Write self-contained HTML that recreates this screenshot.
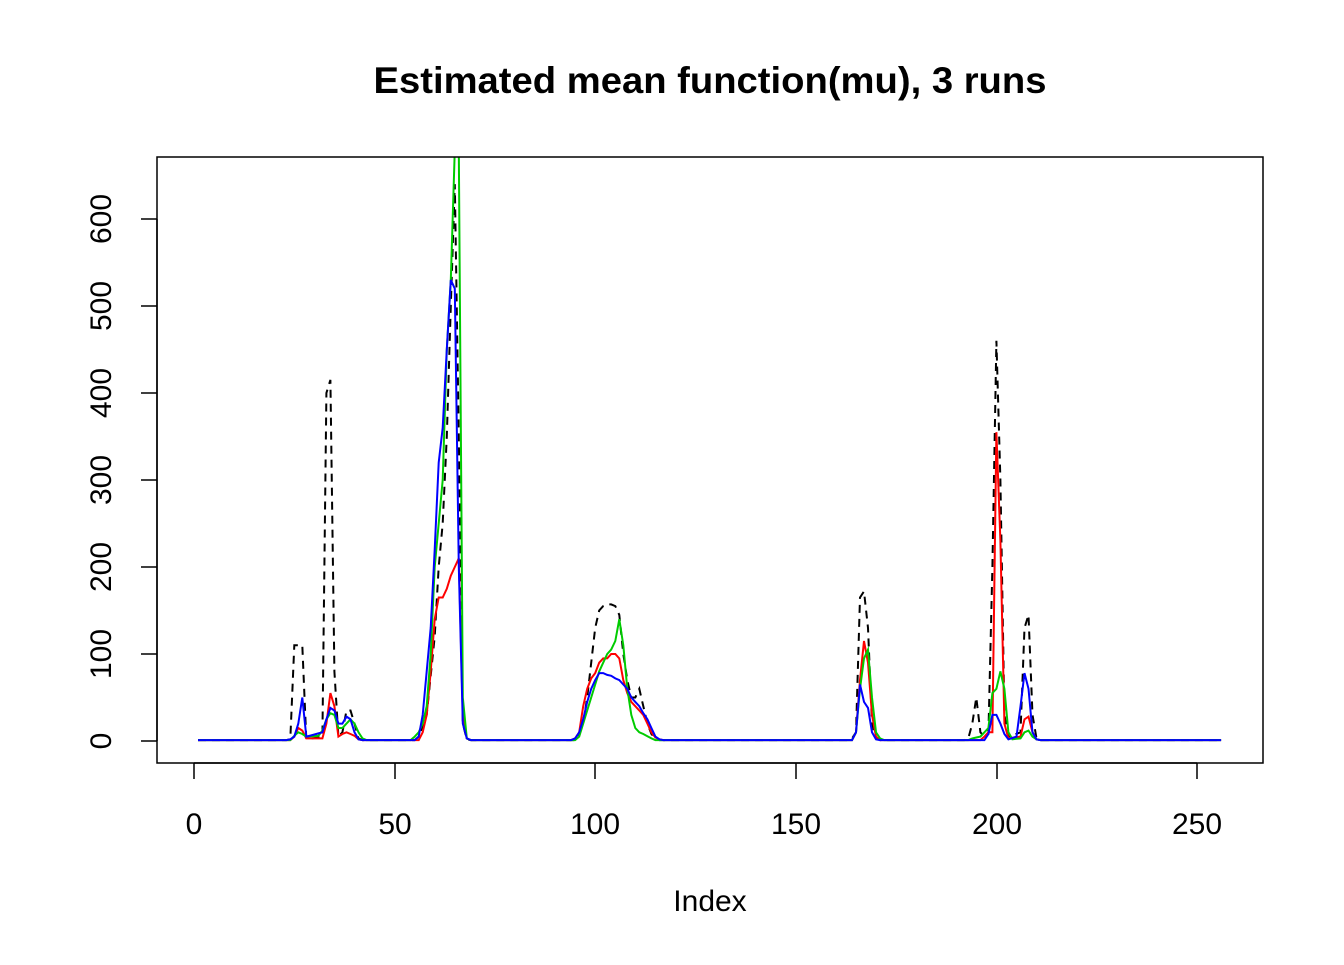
<!DOCTYPE html>
<html><head><meta charset="utf-8"><style>
body{margin:0;background:#fff}
text{font-family:"Liberation Sans",Arial,sans-serif}
</style></head><body>
<svg id="s" width="1344" height="960" xmlns="http://www.w3.org/2000/svg">
<rect width="1344" height="960" fill="#fff"/>
<text x="710" y="93" font-size="37" font-weight="bold" text-anchor="middle" textLength="673" lengthAdjust="spacingAndGlyphs">Estimated mean function(mu), 3 runs</text>
<text x="710" y="911" font-size="30" text-anchor="middle">Index</text>
<g stroke="#000" stroke-width="1.5">
<line x1="194" y1="763" x2="1197" y2="763"/>
<line x1="194" y1="763" x2="194" y2="779"/><line x1="395" y1="763" x2="395" y2="779"/><line x1="595" y1="763" x2="595" y2="779"/><line x1="796" y1="763" x2="796" y2="779"/><line x1="997" y1="763" x2="997" y2="779"/><line x1="1197" y1="763" x2="1197" y2="779"/>
<line x1="157" y1="741" x2="157" y2="219"/>
<line x1="157" y1="741" x2="141" y2="741"/><line x1="157" y1="654" x2="141" y2="654"/><line x1="157" y1="567" x2="141" y2="567"/><line x1="157" y1="480" x2="141" y2="480"/><line x1="157" y1="393" x2="141" y2="393"/><line x1="157" y1="306" x2="141" y2="306"/><line x1="157" y1="219" x2="141" y2="219"/>
</g>
<g font-size="30" text-anchor="middle">
<text x="194" y="834">0</text><text x="395" y="834">50</text><text x="595" y="834">100</text><text x="796" y="834">150</text><text x="997" y="834">200</text><text x="1197" y="834">250</text>
<text transform="translate(111,741) rotate(-90)">0</text>
<text transform="translate(111,654) rotate(-90)">100</text>
<text transform="translate(111,567) rotate(-90)">200</text>
<text transform="translate(111,480) rotate(-90)">300</text>
<text transform="translate(111,393) rotate(-90)">400</text>
<text transform="translate(111,306) rotate(-90)">500</text>
<text transform="translate(111,219) rotate(-90)">600</text>
</g>
<defs><clipPath id="c"><rect x="157" y="157" width="1106" height="606"/></clipPath></defs>
<g id="lines" clip-path="url(#c)" fill="none" stroke-width="2"></g>
<rect x="157" y="157" width="1106" height="606" fill="none" stroke="#000" stroke-width="1.5"/>
</svg>
<script>
function series(pts){
  var m={};pts.forEach(function(p){m[p[0]]=p[1];});
  var keys=Object.keys(m).map(Number).sort(function(a,b){return a-b});
  var d="";
  for(var i=1;i<=256;i++){
    var v;
    if(m[i]!==undefined)v=m[i];
    else{
      var lo=null,hi=null;
      for(var k=0;k<keys.length;k++){if(keys[k]<i)lo=keys[k];if(keys[k]>i&&hi===null)hi=keys[k];}
      if(lo!==null&&hi!==null&&hi-lo<=4){v=m[lo]+(m[hi]-m[lo])*(i-lo)/(hi-lo);}else v=1;
    }
    var x=194+4.012*i,y=741-0.87*v;
    d+=(i==1?"M":"L")+x.toFixed(1)+","+y.toFixed(1);
  }
  return d;
}
var S=[
["#000","8,6",[[24,2],[25,110],[26,110],[27,110],[28,2],[32,5],[33,400],[34,415],[35,80],[36,5],[37,10],[38,35],[39,35],[40,20],[41,3],[56,5],[58,30],[60,120],[61,200],[62,250],[63,350],[64,500],[65,640],[66,350],[67,20],[68,2],[96,8],[97,20],[98,50],[99,90],[100,130],[101,150],[102,155],[103,157],[104,157],[105,155],[106,145],[107,100],[108,70],[109,50],[110,50],[111,60],[112,40],[113,20],[114,8],[115,3],[164,3],[165,10],[166,165],[167,172],[168,130],[169,20],[170,3],[193,3],[194,20],[195,50],[196,10],[197,5],[198,8],[199,200],[200,460],[201,300],[202,30],[203,5],[206,10],[207,130],[208,145],[209,30],[210,3]]],
["#f00","",[[25,5],[26,15],[27,12],[28,3],[32,3],[33,20],[34,55],[35,40],[36,5],[37,8],[38,10],[40,6],[41,2],[57,10],[58,30],[59,80],[60,140],[61,165],[62,165],[63,175],[64,190],[65,200],[66,210],[67,30],[68,3],[95,3],[96,10],[97,40],[98,60],[99,72],[100,78],[101,90],[102,95],[103,95],[104,100],[105,100],[106,95],[107,70],[108,55],[109,45],[110,40],[111,35],[112,30],[113,20],[114,10],[115,4],[116,2],[165,10],[166,70],[167,115],[168,90],[169,30],[170,5],[197,5],[198,10],[199,10],[200,355],[201,230],[202,20],[203,3],[206,5],[207,25],[208,28],[209,10],[210,2]]],
["#0c0","",[[25,6],[26,10],[27,8],[28,5],[31,6],[32,12],[33,25],[34,32],[35,30],[36,15],[37,15],[38,20],[39,25],[40,20],[41,10],[42,3],[55,5],[56,10],[57,20],[58,40],[59,100],[60,200],[61,250],[62,300],[63,450],[64,530],[65,680],[66,680],[67,50],[68,3],[96,5],[97,20],[98,35],[99,50],[100,65],[101,80],[102,90],[103,100],[104,105],[105,115],[106,140],[107,110],[108,60],[109,30],[110,15],[111,10],[112,8],[114,3],[165,10],[166,60],[167,95],[168,105],[169,50],[170,10],[171,3],[194,3],[196,5],[198,15],[199,55],[200,60],[201,80],[202,60],[203,10],[204,2],[206,3],[207,10],[208,12],[209,5],[210,2]]],
["#00f","",[[24,2],[25,5],[26,20],[27,50],[28,5],[32,10],[33,25],[34,38],[35,35],[36,20],[37,20],[38,28],[39,25],[40,10],[41,2],[56,5],[57,30],[58,80],[59,130],[60,220],[61,320],[62,360],[63,450],[64,530],[65,520],[66,200],[67,20],[68,3],[95,3],[96,10],[97,25],[98,45],[99,60],[100,70],[101,78],[102,78],[103,76],[104,75],[105,72],[106,70],[107,65],[108,60],[109,50],[110,45],[111,40],[112,32],[113,25],[114,15],[115,5],[116,2],[165,10],[166,65],[167,45],[168,38],[169,10],[170,2],[198,8],[199,30],[200,30],[201,20],[202,8],[203,2],[205,5],[206,40],[207,78],[208,60],[209,10],[210,2]]]
];
var g=document.getElementById("lines");
S.forEach(function(s){
  var p=document.createElementNS("http://www.w3.org/2000/svg","path");
  p.setAttribute("d",series(s[2]));p.setAttribute("stroke",s[0]);
  if(s[1])p.setAttribute("stroke-dasharray",s[1]);
  g.appendChild(p);
});
</script>
</body></html>
